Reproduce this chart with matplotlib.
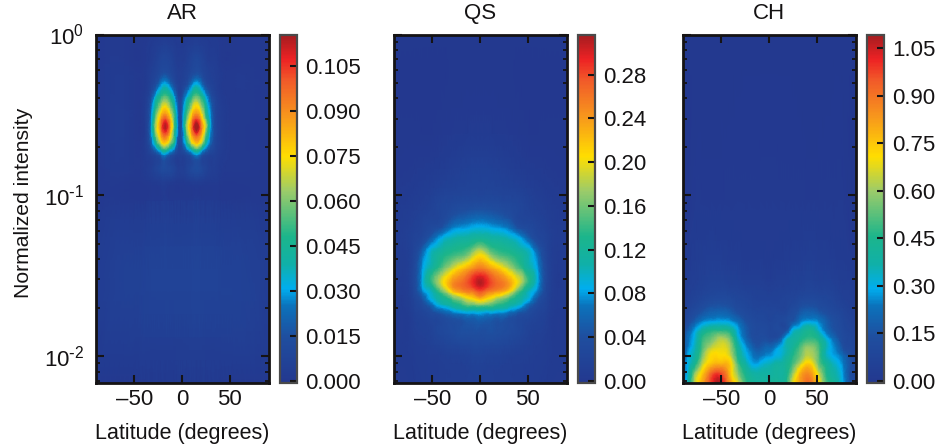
import numpy as np
import matplotlib
matplotlib.use("Agg")
import matplotlib.pyplot as plt
from matplotlib.colors import LinearSegmentedColormap, Normalize
from matplotlib.ticker import LogLocator, NullFormatter, FixedFormatter, FixedLocator
from matplotlib.tri import Triangulation, UniformTriRefiner

plt.rcParams['font.family'] = ['Liberation Sans', 'DejaVu Sans']
plt.rcParams['mathtext.default'] = 'regular'

titles = ["AR", "QS", "CH"]

intensity_ticks = [0.01, 0.1, 1]
intensity_labels = [r"$10^{\text{-}2}$", r"$10^{\text{-}1}$", r"$10^{0}$"]

# --- AR: values in units of 0.001
ar_lat = [-91, -50, -38, -32, -28, -23, -18, -13, -8, -5, -2, 1, 5, 10, 15, 20, 25, 30, 34, 40, 52, 91]
ar_int = [1, .855, .69, .581, .489, .412, .347, .301, .261, .232, .207, .18, .153, .124, .093, .0068]
ar_val = [
 [0,0,0,1,1,2,2,2,1,1,1,1,1,2,3,2,1,1,1,0,0,0],
 [0,0,1,2,3,4,5,4,3,2,2,2,3,4,5,4,3,2,2,1,0,0],
 [0,0,1,3,5,8,9,8,5,3,3,3,5,8,10,8,5,3,3,1,0,0],
 [0,1,2,5,7,11,14,11,7,5,4,5,7,11,14,11,7,5,4,2,1,0],
 [0,1,2,7,13,25,33,25,13,7,5,7,13,26,34,26,13,7,5,2,1,0],
 [0,1,3,15,32,47,55,47,30,15,8,16,32,48,57,48,32,15,8,3,1,0],
 [0,1,4,24,46,66,78,66,44,24,11,24,46,68,80,68,46,24,11,4,1,0],
 [0,1,4,28,56,84,100,84,52,27,12,28,56,86,102,86,56,28,12,4,1,0],
 [0,1,4,32,62,90,113,92,56,30,13,30,64,94,118,96,66,30,13,4,1,0],
 [0,1,4,28,54,80,95,80,50,26,12,26,54,82,97,82,54,26,12,4,1,0],
 [0,1,4,20,40,62,75,62,40,19,10,19,40,64,77,64,40,19,10,4,1,0],
 [0,1,3,7,12,20,30,20,12,7,6,7,12,20,31,20,12,7,6,3,1,0],
 [0,1,2,4,7,10,13,10,7,4,4,4,7,10,13,10,7,4,4,2,1,0],
 [0,0,1,2,3,4,5,4,3,2,2,2,3,4,5,4,3,2,2,1,0,0],
 [0,0,0,1,1,1,2,1,1,1,1,1,1,1,2,1,1,1,1,0,0,0],
 [0,0,0,0,0,0,0,0,0,0,0,0,0,0,0,0,0,0,0,0,0,0],
]
ar_scale = 0.001
ar_max = 0.1156
ar_ticks = [0.000, 0.015, 0.030, 0.045, 0.060, 0.075, 0.090, 0.105]
ar_labels = ["0.000", "0.015", "0.030", "0.045", "0.060", "0.075", "0.090", "0.105"]

# --- QS: values in units of 0.001
qs_lat = [-91, -70, -60, -52, -45, -38, -30, -20, -10, 0, 10, 20, 30, 38, 45, 52, 60, 70, 91]
qs_int = [1, .238, .124, .0807, .0624, .0541, .0475, .0424, .0352, .0288, .025, .0226, .021, .0185, .0156, .0117, .0068]
qs_val = [
 [0,0,0,0,0,0,0,1,1,1,1,1,0,0,0,0,0,0,0],
 [0,0,0,0,1,2,3,4,5,5,5,4,3,2,1,0,0,0,0],
 [2,4,6,8,10,12,14,16,18,18,18,16,14,12,10,8,6,4,2],
 [5,10,14,18,22,26,32,38,42,44,42,38,32,26,22,18,14,10,5],
 [8,15,22,30,38,50,70,80,86,90,86,80,70,50,38,30,22,15,8],
 [9,18,28,50,75,92,102,110,115,122,115,110,102,92,75,50,28,18,9],
 [10,20,48,85,100,112,122,130,142,165,142,130,122,112,100,85,48,20,10],
 [10,22,66,100,118,130,140,150,175,205,175,150,140,130,118,100,66,22,10],
 [11,25,80,110,135,158,185,215,240,258,240,215,185,158,135,110,80,25,11],
 [11,26,88,130,170,205,240,262,285,312,285,262,240,205,170,130,88,26,11],
 [10,24,70,95,125,160,205,235,252,275,252,235,205,160,125,95,70,24,10],
 [9,20,46,85,105,122,145,170,200,225,200,170,145,122,105,85,46,20,9],
 [8,18,35,60,88,105,120,140,160,170,160,140,120,105,88,60,35,18,8],
 [7,14,22,32,42,52,64,74,80,85,80,74,64,52,42,32,22,14,7],
 [6,11,16,20,25,30,35,40,44,46,44,40,35,30,25,20,16,11,6],
 [5,8,11,14,17,20,23,26,28,29,28,26,23,20,17,14,11,8,5],
 [3,5,7,9,10,11,12,13,14,14,14,13,12,11,10,9,7,5,3],
]
qs_scale = 0.001
qs_max = 0.3168
qs_ticks = [0.00, 0.04, 0.08, 0.12, 0.16, 0.20, 0.24, 0.28]
qs_labels = ["0.00", "0.04", "0.08", "0.12", "0.16", "0.20", "0.24", "0.28"]

# --- CH: values in units of 0.01
ch_lat = [-91, -85, -78, -70, -62, -55, -48, -40, -33, -25, -18, -10, 0, 10, 18, 25, 32, 38, 45, 52, 60, 70, 78, 85, 91]
ch_int = [1, .093, .0296, .0223, .018, .01626, .0145, .0131, .01138, .01014, .00905, .00796, .0068]
ch_val = [
 [0,0,0,0,0,0,0,0,0,0,0,0,0,0,0,0,0,0,0,0,0,0,0,0,0],
 [0,0,1,1,1,1,1,1,1,1,1,1,1,1,1,1,1,1,1,1,1,1,1,0,0],
 [2,3,4,5,6,6,6,5,5,4,4,4,3,4,4,5,5,6,6,5,5,4,3,3,2],
 [3,5,7,9,11,12,12,11,9,8,7,6,6,6,7,8,10,11,11,10,9,7,5,4,3],
 [5,9,13,18,21,22,22,20,16,12,10,9,8,9,10,13,18,21,21,19,15,11,8,6,4],
 [7,12,19,26,29,30,30,28,23,16,12,10,9,10,12,17,24,29,29,26,19,13,9,7,5],
 [10,18,28,38,44,46,46,42,30,19,13,11,10,11,14,32,36,42,43,33,22,14,10,8,6],
 [12,22,31,46,52,58,60,52,34,21,14,12,11,13,30,38,42,46,47,42,30,18,11,9,7],
 [14,24,34,50,62,67,68,60,42,28,20,16,20,28,36,42,50,58,58,50,36,24,13,10,8],
 [15,28,38,55,70,72,71,64,46,32,25,22,26,31,38,46,54,62,62,52,35,27,20,13,9],
 [16,30,42,62,74,78,78,72,52,38,29,29,34,38,42,50,62,72,70,54,42,32,24,15,10],
 [18,32,55,72,88,96,92,74,58,44,38,37,38,40,43,58,76,84,80,64,46,36,26,14,10],
 [22,35,62,80,95,108,102,82,68,50,42,40,41,42,46,68,80,90,88,72,52,40,28,16,10],
]
ch_scale = 0.01
ch_max = 1.094
ch_ticks = [0.00, 0.15, 0.30, 0.45, 0.60, 0.75, 0.90, 1.05]
ch_labels = ["0.00", "0.15", "0.30", "0.45", "0.60", "0.75", "0.90", "1.05"]

lat_ticks = [-50, 0, 50]
lat_labels = ["\u201350", "0", "50"]

cmap = LinearSegmentedColormap.from_list("solar", [
    (0.00, "#23388f"), (0.13, "#1f4e9f"), (0.22, "#0b72bb"), (0.27, "#00aeef"),
    (0.34, "#10b0a8"), (0.42, "#1cb58b"), (0.55, "#9bcb6a"), (0.65, "#ffde00"),
    (0.77, "#f7941d"), (0.87, "#f15a29"), (0.93, "#ed2224"), (1.00, "#a51c20"),
])

W, H = 935, 446
fig = plt.figure(figsize=(W / 100, H / 100), dpi=100)
INK = "#151314"
XLIM = (-90.5, 90.5)
YLIM = (0.0068, 1)


def box(x0, x1, y0, y1):
    return [x0 / W, 1 - y1 / H, (x1 - x0) / W, (y1 - y0) / H]


panels = [
    (95.5, ar_lat, ar_int, ar_val, ar_scale, ar_max, ar_ticks, ar_labels),
    (393.5, qs_lat, qs_int, qs_val, qs_scale, qs_max, qs_ticks, qs_labels),
    (682.5, ch_lat, ch_int, ch_val, ch_scale, ch_max, ch_ticks, ch_labels),
]

for i, (left, lat, inten, val, scale, vmax, cticks, clabels) in enumerate(panels):
    # the field sits in an underlay whose y axis is log10(intensity);
    # the log-scaled axes on top carry the ticks and labels
    under = fig.add_axes(box(left, left + 173, 34.5, 383), zorder=1)
    X, Y = np.meshgrid(np.array(lat, float) / 90.0, np.log10(inten))
    C = np.array(val, dtype=float) * scale
    norm = Normalize(vmin=-vmax * 0.006, vmax=vmax)
    tri = Triangulation(X.ravel(), Y.ravel())
    fine, fine_c = UniformTriRefiner(tri).refine_field(C.ravel(), subdiv=3)
    pcm = under.tripcolor(fine, fine_c, shading="gouraud", cmap=cmap, norm=norm, rasterized=True)
    under.set_xlim(XLIM[0] / 90.0, XLIM[1] / 90.0)
    under.set_ylim(np.log10(YLIM[0]), np.log10(YLIM[1]))
    under.axis("off")

    ax = fig.add_axes(box(left, left + 173, 34.5, 383), zorder=2)
    ax.patch.set_visible(False)
    ax.set_yscale("log")
    ax.set_xlim(*XLIM)
    ax.set_ylim(*YLIM)
    ax.set_xticks(lat_ticks)
    ax.set_xticklabels(lat_labels)
    ax.yaxis.set_major_locator(FixedLocator(intensity_ticks))
    ax.yaxis.set_minor_locator(LogLocator(base=10, subs=np.arange(2, 10), numticks=5))
    ax.yaxis.set_minor_formatter(NullFormatter())
    ax.yaxis.set_major_formatter(FixedFormatter(intensity_labels) if i == 0 else NullFormatter())
    ax.tick_params(axis="x", which="major", direction="in", length=5.5, width=1.5,
                   top=True, bottom=True, color=INK, labelsize=16, labelcolor=INK, pad=4.5)
    ax.tick_params(axis="y", which="major", direction="in", length=5.5, width=1.5,
                   left=True, right=True, color=INK, labelsize=16, labelcolor=INK, pad=8)
    ax.tick_params(axis="y", which="minor", direction="in", length=3, width=1.3,
                   left=True, right=True, color=INK)
    ax.tick_params(axis="x", which="minor", bottom=False, top=False)
    for s in ax.spines.values():
        s.set_linewidth(2.0)
        s.set_color(INK)
    ax.set_title(titles[i], fontsize=16, color=INK, pad=11.5)
    ax.set_xlabel("Latitude (degrees)", fontsize=15.5, color=INK, labelpad=9.5)
    if i == 0:
        ax.set_ylabel("Normalized intensity", fontsize=15.2, color=INK, labelpad=8, y=0.5165)

    cax = fig.add_axes(box(left + 184, left + 201, 34.5, 383))
    cb = fig.colorbar(pcm, cax=cax)
    cb.set_ticks(cticks)
    cb.set_ticklabels(clabels)
    cb.ax.tick_params(which="major", direction="in", length=5, width=1.5, color=INK,
                      labelsize=16, labelcolor=INK, pad=6, right=True)
    cb.ax.minorticks_off()
    cb.outline.set_linewidth(1.6)
    cb.outline.set_edgecolor("#4a4a4a")

fig.savefig("out.png", dpi=100)
